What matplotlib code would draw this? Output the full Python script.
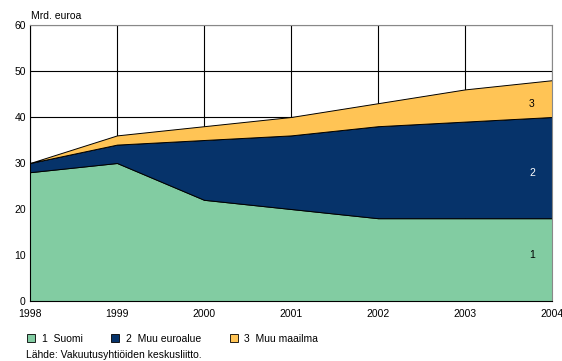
import matplotlib
matplotlib.use("Agg")
import matplotlib.pyplot as plt
from matplotlib.patches import Patch

years = [1998, 1999, 2000, 2001, 2002, 2003, 2004]
suomi = [28, 30, 22, 20, 18, 18, 18]
euroalue = [2, 4, 13, 16, 20, 21, 22]
maailma = [0, 2, 3, 4, 5, 7, 8]
labels = ["1  Suomi", "2  Muu euroalue", "3  Muu maailma"]
colors = ["#82CCA2", "#06336A", "#FFC455"]

plt.rcParams['font.family'] = ['Liberation Sans', 'DejaVu Sans']
fig = plt.figure(figsize=(5.62, 3.61), dpi=100)
ax = fig.add_axes([30/562, 1-301/361, 522/562, 276/361])

ax.stackplot(years, suomi, euroalue, maailma, colors=colors,
             edgecolor="black", linewidth=0.7, zorder=2)
ax.set_xlim(1998, 2004)
ax.set_ylim(0, 60)
ax.set_xticks(years)
ax.set_yticks(range(0, 61, 10))
ax.grid(True, color="black", linewidth=0.8, zorder=1)
ax.set_axisbelow(True)
ax.tick_params(length=0, labelsize=7.5, pad=3)
ax.tick_params(axis='x', pad=6)
for s in ["top", "right"]:
    ax.spines[s].set_color("#888888")
for s in ["left", "bottom"]:
    ax.spines[s].set_color("black")

# Inline labels
c1 = list(suomi)
c2 = [a + b for a, b in zip(suomi, euroalue)]
c3 = [a + b for a, b in zip(c2, maailma)]
lx = 2003.77
ax.text(lx, c1[-1] / 2 + 1, "1", fontsize=7.5, ha="center", va="center", color="black")
ax.text(lx, (c1[-1] + c2[-1]) / 2 - 1.2, "2", fontsize=7.5, ha="center", va="center", color="white")
ax.text(lx, (c2[-1] + c3[-1]) / 2 - 1.2, "3", fontsize=7.5, ha="center", va="center", color="black")

fig.text(31/562, 1-16/361, "Mrd. euroa", fontsize=7.5, va="center", ha="left")

handles = [Patch(facecolor=c, edgecolor="black", linewidth=0.6) for c in colors]
fig.legend(handles, labels, loc="center left", bbox_to_anchor=(27/562, 1-338.5/361),
           ncol=3, frameon=False, fontsize=7.5, handlelength=0.8, handleheight=0.8,
           handletextpad=0.6, columnspacing=2.75, borderaxespad=0, borderpad=0)
fig.text(26/562, 1-354.5/361, "Lähde: Vakuutusyhtiöiden keskusliitto.", fontsize=7.5, va="center", ha="left")

fig.savefig("out.png", dpi=100)
